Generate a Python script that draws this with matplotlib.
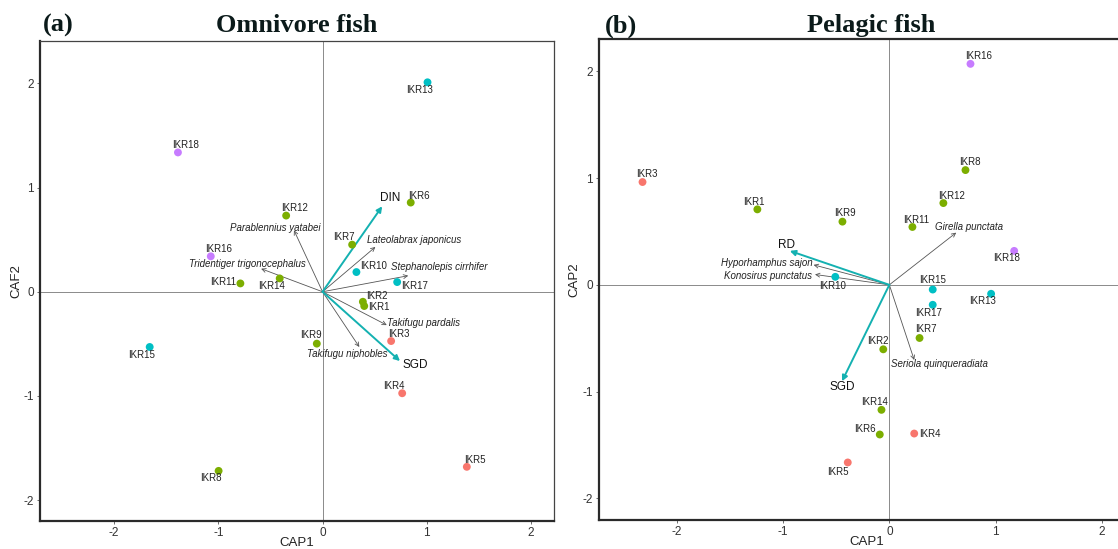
import matplotlib
matplotlib.use("Agg")
from matplotlib import pyplot as plt

plt.rcParams['font.family'] = ['Liberation Sans', 'DejaVu Sans']
plt.rcParams['axes.unicode_minus'] = False

sites = ["IKR%d" % i for i in range(1, 19)]
# 0 = red, 1 = green, 2 = cyan, 3 = violet
site_group = [1, 1, 0, 0, 0, 1, 1, 1, 1, 2, 1, 1, 2, 1, 2, 3, 2, 3]

# (a) omnivore fish site scores
omni_cap1 = [0.400, 0.387, 0.658, 0.764, 1.384, 0.846, 0.284, -0.997, -0.055,
             0.325, -0.788, -0.349, 1.007, -0.411, -1.658, -1.072, 0.716, -1.387]
omni_cap2 = [-0.137, -0.096, -0.473, -0.974, -1.680, 0.856, 0.452, -1.719, -0.498,
             0.189, 0.080, 0.731, 2.010, 0.128, -0.530, 0.340, 0.093, 1.337]

omni_species = ["Parablennius yatabei", "Lateolabrax japonicus",
                "Tridentiger trigonocephalus", "Stephanolepis cirrhifer",
                "Takifugu pardalis", "Takifugu niphobles"]
omni_sp_cap1 = [-0.274, 0.507, -0.589, 0.822, 0.616, 0.353]
omni_sp_cap2 = [0.590, 0.430, 0.221, 0.154, -0.320, -0.530]

omni_env = ["DIN", "SGD"]
omni_env_cap1 = [0.572, 0.743]
omni_env_cap2 = [0.820, -0.665]

# (b) pelagic fish site scores
pel_cap1 = [-1.241, -0.057, -2.321, 0.234, -0.391, -0.090, 0.284, 0.716, -0.441,
            -0.508, 0.217, 0.508, 0.957, -0.074, 0.408, 0.763, 0.408, 1.174]
pel_cap2 = [0.707, -0.604, 0.963, -1.393, -1.664, -1.402, -0.498, 1.075, 0.592,
            0.075, 0.542, 0.766, -0.084, -1.171, -0.044, 2.070, -0.187, 0.318]

pel_species = ["Girella punctata", "Hyporhamphus sajon",
               "Konosirus punctatus", "Seriola quinqueradiata"]
pel_sp_cap1 = [0.629, -0.712, -0.699, 0.234]
pel_sp_cap2 = [0.489, 0.187, 0.097, -0.704]

pel_env = ["RD", "SGD"]
pel_env_cap1 = [-0.936, -0.445]
pel_env_cap2 = [0.318, -0.903]

# label placement (repel-like), kept apart from the data
omni_site_lab = [(0.541, -0.15), (0.524, -0.045), (0.733, -0.403), (0.685, -0.90),
                 (1.459, -1.61), (0.928, 0.923), (0.205, 0.526), (-1.072, -1.792),
                 (-0.11, -0.415), (0.49, 0.247), (-0.952, 0.089), (-0.27, 0.80),
                 (0.928, 1.936), (-0.486, 0.054), (-1.733, -0.604), (-0.993, 0.41),
                 (0.88, 0.054), (-1.312, 1.407)]
omni_sp_lab = [(-0.02, 0.61, 'right'), (0.43, 0.50, 'left'), (-0.16, 0.27, 'right'),
               (0.66, 0.24, 'left'), (0.62, -0.30, 'left'), (-0.15, -0.60, 'left')]
omni_env_lab = [(0.65, 0.90), (0.885, -0.703)]

pel_site_lab = [(-1.278, 0.779), (-0.11, -0.526), (-2.281, 1.037), (0.385, -1.396),
                (-0.482, -1.754), (-0.227, -1.352), (0.341, -0.411), (0.759, 1.146),
                (-0.421, 0.673), (-0.532, -0.009), (0.254, 0.611), (0.585, 0.835),
                (0.876, -0.153), (-0.14, -1.093), (0.408, 0.044), (0.843, 2.14),
                (0.365, -0.268), (1.10, 0.252)]
pel_sp_lab = [(0.43, 0.542, 'left'), (-0.725, 0.202, 'right'),
              (-0.73, 0.087, 'right'), (0.02, -0.745, 'left')]
pel_env_lab = [(-0.967, 0.374), (-0.445, -0.956)]

group_colors = ['#F8766D', '#7CAE00', '#00BFC4', '#C77CFF']
env_color = '#14B1B1'
sp_color = '#555555'


def draw_panel(ax, x, y, site_lab, species, spx, spy, sp_lab, env, ex, ey, env_lab):
    ax.axhline(0, color='#8a8a8a', lw=0.7, zorder=1)
    ax.axvline(0, color='#8a8a8a', lw=0.7, zorder=1)

    for i in range(len(species)):
        ax.annotate("", xy=(spx[i], spy[i]), xytext=(0, 0),
                    arrowprops=dict(arrowstyle='->', color=sp_color, lw=0.6,
                                    shrinkA=0, shrinkB=0, mutation_scale=7),
                    zorder=2)
        lx, ly, ha = sp_lab[i]
        ax.text(lx, ly, species[i], fontsize=7, style='italic', ha=ha,
                va='center', color='#222222', zorder=4)

    for i in range(len(env)):
        ax.annotate("", xy=(ex[i], ey[i]), xytext=(0, 0),
                    arrowprops=dict(arrowstyle='-|>', color=env_color, lw=1.4,
                                    shrinkA=0, shrinkB=0, mutation_scale=8),
                    zorder=3)
        ax.text(env_lab[i][0], env_lab[i][1], env[i], fontsize=8.5,
                ha='center', va='center', color='#111111', zorder=4)

    cols = [group_colors[g] for g in site_group]
    ax.scatter(x, y, s=32, c=cols, edgecolors='none', zorder=5)
    for i in range(len(sites)):
        ax.text(site_lab[i][0], site_lab[i][1], sites[i], fontsize=7,
                ha='center', va='center', color='#222222', zorder=6)

    ax.set_xticks([-2, -1, 0, 1, 2])
    ax.set_yticks([-2, -1, 0, 1, 2])
    ax.tick_params(labelsize=8.5, length=2.5, width=0.6, color='#555555',
                   labelcolor='#333333', pad=2)
    for s in ['left', 'bottom']:
        ax.spines[s].set_linewidth(1.6)
        ax.spines[s].set_color('#2a2a2a')
    for s in ['top', 'right']:
        ax.spines[s].set_linewidth(0.9)
        ax.spines[s].set_color('#444444')


fig = plt.figure(figsize=(11.18, 5.49), dpi=100)

ax1 = fig.add_axes([0.0358, 0.051, 0.4597, 0.875])
draw_panel(ax1, omni_cap1, omni_cap2, omni_site_lab, omni_species, omni_sp_cap1,
           omni_sp_cap2, omni_sp_lab, omni_env, omni_env_cap1, omni_env_cap2,
           omni_env_lab)
ax1.set_xlim(-2.71, 2.22)
ax1.set_ylim(-2.2, 2.41)
ax1.set_xlabel("CAP1", fontsize=9.5, color='#222222')
ax1.set_ylabel("CAF2", fontsize=9.5, color='#222222')
ax1.xaxis.set_label_coords(0.5, -0.033)
ax1.yaxis.set_label_coords(-0.035, 0.5)

ax2 = fig.add_axes([0.5358, 0.0534, 0.4794, 0.875])
draw_panel(ax2, pel_cap1, pel_cap2, pel_site_lab, pel_species, pel_sp_cap1,
           pel_sp_cap2, pel_sp_lab, pel_env, pel_env_cap1, pel_env_cap2,
           pel_env_lab)
ax2.set_xlim(-2.73, 2.31)
ax2.set_ylim(-2.2, 2.30)
ax2.spines['top'].set_linewidth(1.6)
ax2.spines['top'].set_color('#2a2a2a')
ax2.set_xlabel("CAP1", fontsize=9.5, color='#222222')
ax2.set_ylabel("CAP2", fontsize=9.5, color='#222222')
ax2.xaxis.set_label_coords(0.5, -0.033)
ax2.yaxis.set_label_coords(-0.035, 0.5)

title_font = dict(family='Liberation Serif', fontweight='bold', fontsize=19,
                  color='#0b1a1a', va='center')
fig.text(0.0385, 0.953, "(a)", ha='left', **title_font)
fig.text(0.265, 0.953, "Omnivore fish", ha='center', **title_font)
fig.text(0.5407, 0.953, "(b)", ha='left', **title_font)
fig.text(0.779, 0.953, "Pelagic fish", ha='center', **title_font)

fig.savefig("out.png", dpi=100)
